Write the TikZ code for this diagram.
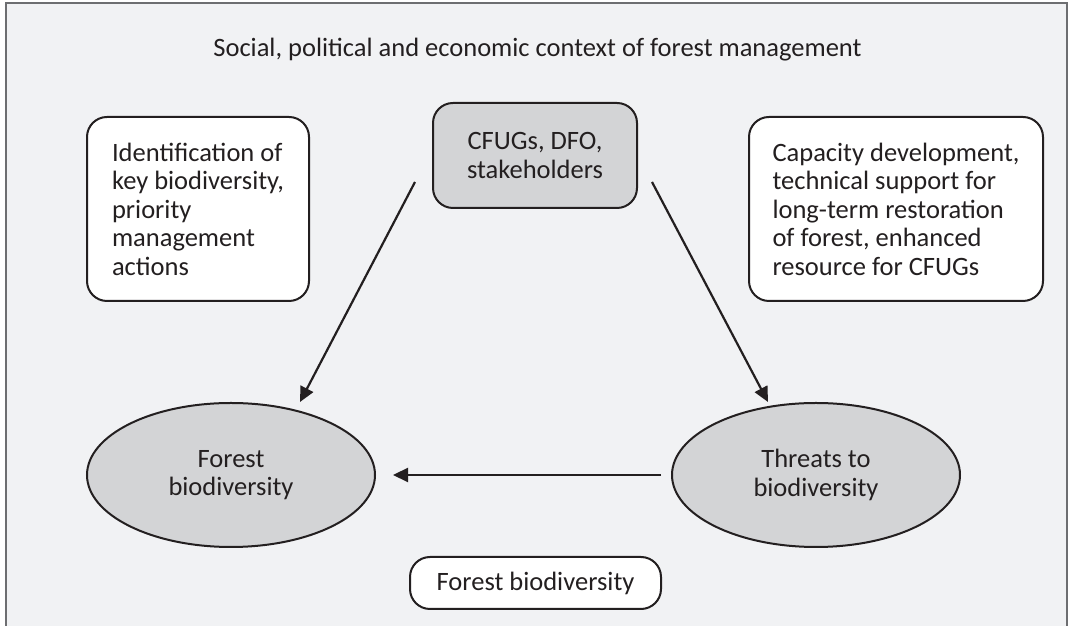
\documentclass[tikz,border=0pt]{standalone}
\usepackage{fontspec}
\setmainfont{Carlito}
\usetikzlibrary{shapes.geometric,arrows.meta}
\definecolor{panelgray}{HTML}{F1F2F4}
\definecolor{nodegray}{HTML}{D3D4D6}
\definecolor{inkblack}{HTML}{231F20}
\definecolor{framegray}{HTML}{6D6E71}
\tikzset{
	bigfont/.style={font=\fontsize{26.5}{28.5}\selectfont},
	notebox/.style={draw=inkblack, line width=2pt, rounded corners=20pt, fill=white, align=left, bigfont, text=inkblack},
	actorbox/.style={draw=inkblack, line width=2pt, rounded corners=20pt, fill=nodegray, align=center, bigfont, text=inkblack},
	stateoval/.style={draw=inkblack, line width=2pt, ellipse, fill=nodegray, align=center, minimum width=288pt, minimum height=144pt, bigfont, text=inkblack},
	link/.style={draw=inkblack, line width=2.2pt, -{Triangle[length=15pt,width=14pt]}}
}
\begin{document}
\begin{tikzpicture}[x=1pt, y=1pt]
		\useasboundingbox (0,0) rectangle (1077,626);
		\fill[panelgray] (6,-2) rectangle (1067,623);
		\draw[framegray, line width=1.5pt] (6,-2) -- (6,623) -- (1067,623) -- (1067,-2);
		
		\node[bigfont, text=inkblack] (context) at (537.5,576) {Social, political and economic context of forest management};
		
		\node[notebox, minimum width=222pt, minimum height=184pt] (ident) at (198,417) {Identification of\\key biodiversity,\\priority\\management\\actions};
		\node[actorbox, minimum width=204pt, minimum height=105pt] (actors) at (535,470.5) {CFUGs, DFO,\\stakeholders};
		\node[notebox, minimum width=294pt, minimum height=184pt] (capacity) at (896,417) {Capacity development,\\technical support for\\long-term restoration\\of forest, enhanced\\resource for CFUGs};
		
		\node[stateoval] (forest) at (231,151) {Forest\\biodiversity};
		\node[stateoval] (threats) at (816,151) {Threats to\\biodiversity};
		
		\node[notebox, align=center, minimum width=251pt, minimum height=52pt] (outcome) at (535.5,43) {Forest biodiversity};
		
		\coordinate (l1) at (415,444);
		\coordinate (l1end) at (300,224);
		\coordinate (r1) at (652,444);
		\coordinate (r1end) at (768,224);
		
		\draw[link] (l1) to (l1end);
		\draw[link] (r1) to (r1end);
		\draw[link, shorten <=10pt, shorten >=17pt] (threats.west) to (forest.east);
	\end{tikzpicture}
\end{document}
